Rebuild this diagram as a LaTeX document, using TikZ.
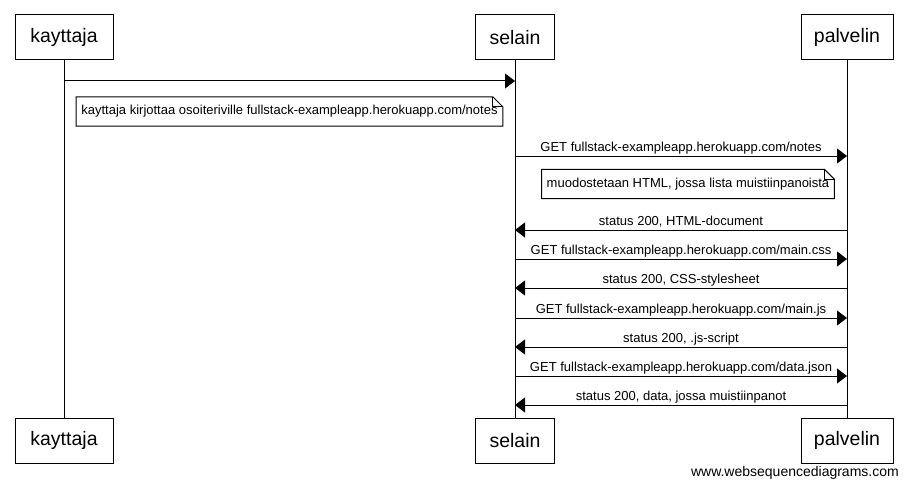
\documentclass[tikz,border=0pt]{standalone}
\usepackage{fontspec}
\setmainfont{Liberation Sans}
\usetikzlibrary{arrows.meta}
\begin{document}
\begin{tikzpicture}[x=1pt,y=-1pt,
  actor/.style={draw, line width=1pt, minimum height=45pt, inner sep=0pt, font=\fontsize{19.5}{22}\selectfont},
  life/.style={line width=1pt},
  msg/.style={line width=1pt, -{Triangle[length=10pt,width=15pt]}},
  lbl/.style={font=\fontsize{13}{15}\selectfont, anchor=base, inner sep=0pt, yshift=4.5pt},
  notebox/.style={font=\fontsize{13}{15}\selectfont, inner xsep=5pt, inner ysep=0pt, minimum height=29pt},
  noteline/.style={line width=1pt},
  foldline/.style={line width=0.8pt},
]
\useasboundingbox (0,0) rectangle (908,487);
% participants
\node[actor, minimum width=98pt] (kt) at (64,37.5) {kayttaja};
\node[actor, minimum width=79pt] (st) at (515,37.5) {selain};
\node[actor, minimum width=92pt] (pt) at (847,37.5) {palvelin};
\node[actor, minimum width=98pt] (kb) at (64,440.5) {kayttaja};
\node[actor, minimum width=79pt] (sb) at (515,440.5) {selain};
\node[actor, minimum width=92pt] (pb) at (847,440.5) {palvelin};
% lifelines
\draw[life] (kt.south) -- (kb.north);
\draw[life] (st.south) -- (sb.north);
\draw[life] (pt.south) -- (pb.north);
% message end points
\coordinate (k1) at (64,81);  \coordinate (s1) at (515,81);
\coordinate (s2) at (515,156); \coordinate (p2) at (847,156);
\coordinate (p3) at (847,230); \coordinate (s3) at (515,230);
\coordinate (s4) at (515,259); \coordinate (p4) at (847,259);
\coordinate (p5) at (847,288); \coordinate (s5) at (515,288);
\coordinate (s6) at (515,318); \coordinate (p6) at (847,318);
\coordinate (p7) at (847,347); \coordinate (s7) at (515,347);
\coordinate (s8) at (515,376); \coordinate (p8) at (847,376);
\coordinate (p9) at (847,405); \coordinate (s9) at (515,405);
% messages
\draw[msg] (k1) -- (s1);
\draw[msg] (s2) -- node[lbl] (l2) {GET fullstack-exampleapp.herokuapp.com/notes} (p2);
\draw[msg] (p3) -- node[lbl] (l3) {status 200, HTML-document} (s3);
\draw[msg] (s4) -- node[lbl] (l4) {GET fullstack-exampleapp.herokuapp.com/main.css} (p4);
\draw[msg] (p5) -- node[lbl] (l5) {status 200, CSS-stylesheet} (s5);
\draw[msg] (s6) -- node[lbl] (l6) {GET fullstack-exampleapp.herokuapp.com/main.js} (p6);
\draw[msg] (p7) -- node[lbl] (l7) {status 200, .js-script} (s7);
\draw[msg] (s8) -- node[lbl] (l8) {GET fullstack-exampleapp.herokuapp.com/data.json} (p8);
\draw[msg] (p9) -- node[lbl] (l9) {status 200, data, jossa muistiinpanot} (s9);
% notes
\node[notebox] (n1) at (289.5,111.5) {kayttaja kirjottaa osoiteriville fullstack-exampleapp.herokuapp.com/notes};
\node[notebox] (n2) at (688,184) {muodostetaan HTML, jossa lista muistiinpanoista};
\foreach \n in {n1,n2} {
  \draw[noteline] (\n.north west) -- ([xshift=-10pt]\n.north east) -- ([yshift=-10pt]\n.north east)
    -- (\n.south east) -- (\n.south west) -- cycle;
  \draw[foldline] ([xshift=-10pt]\n.north east) -- ([xshift=-10pt,yshift=-10pt]\n.north east) -- ([yshift=-10pt]\n.north east);
}
% footer
\node[font=\fontsize{14}{16}\selectfont, anchor=base east, inner sep=0pt] (wsd) at (899,476) {www.websequencediagrams.com};
\end{tikzpicture}
\end{document}
